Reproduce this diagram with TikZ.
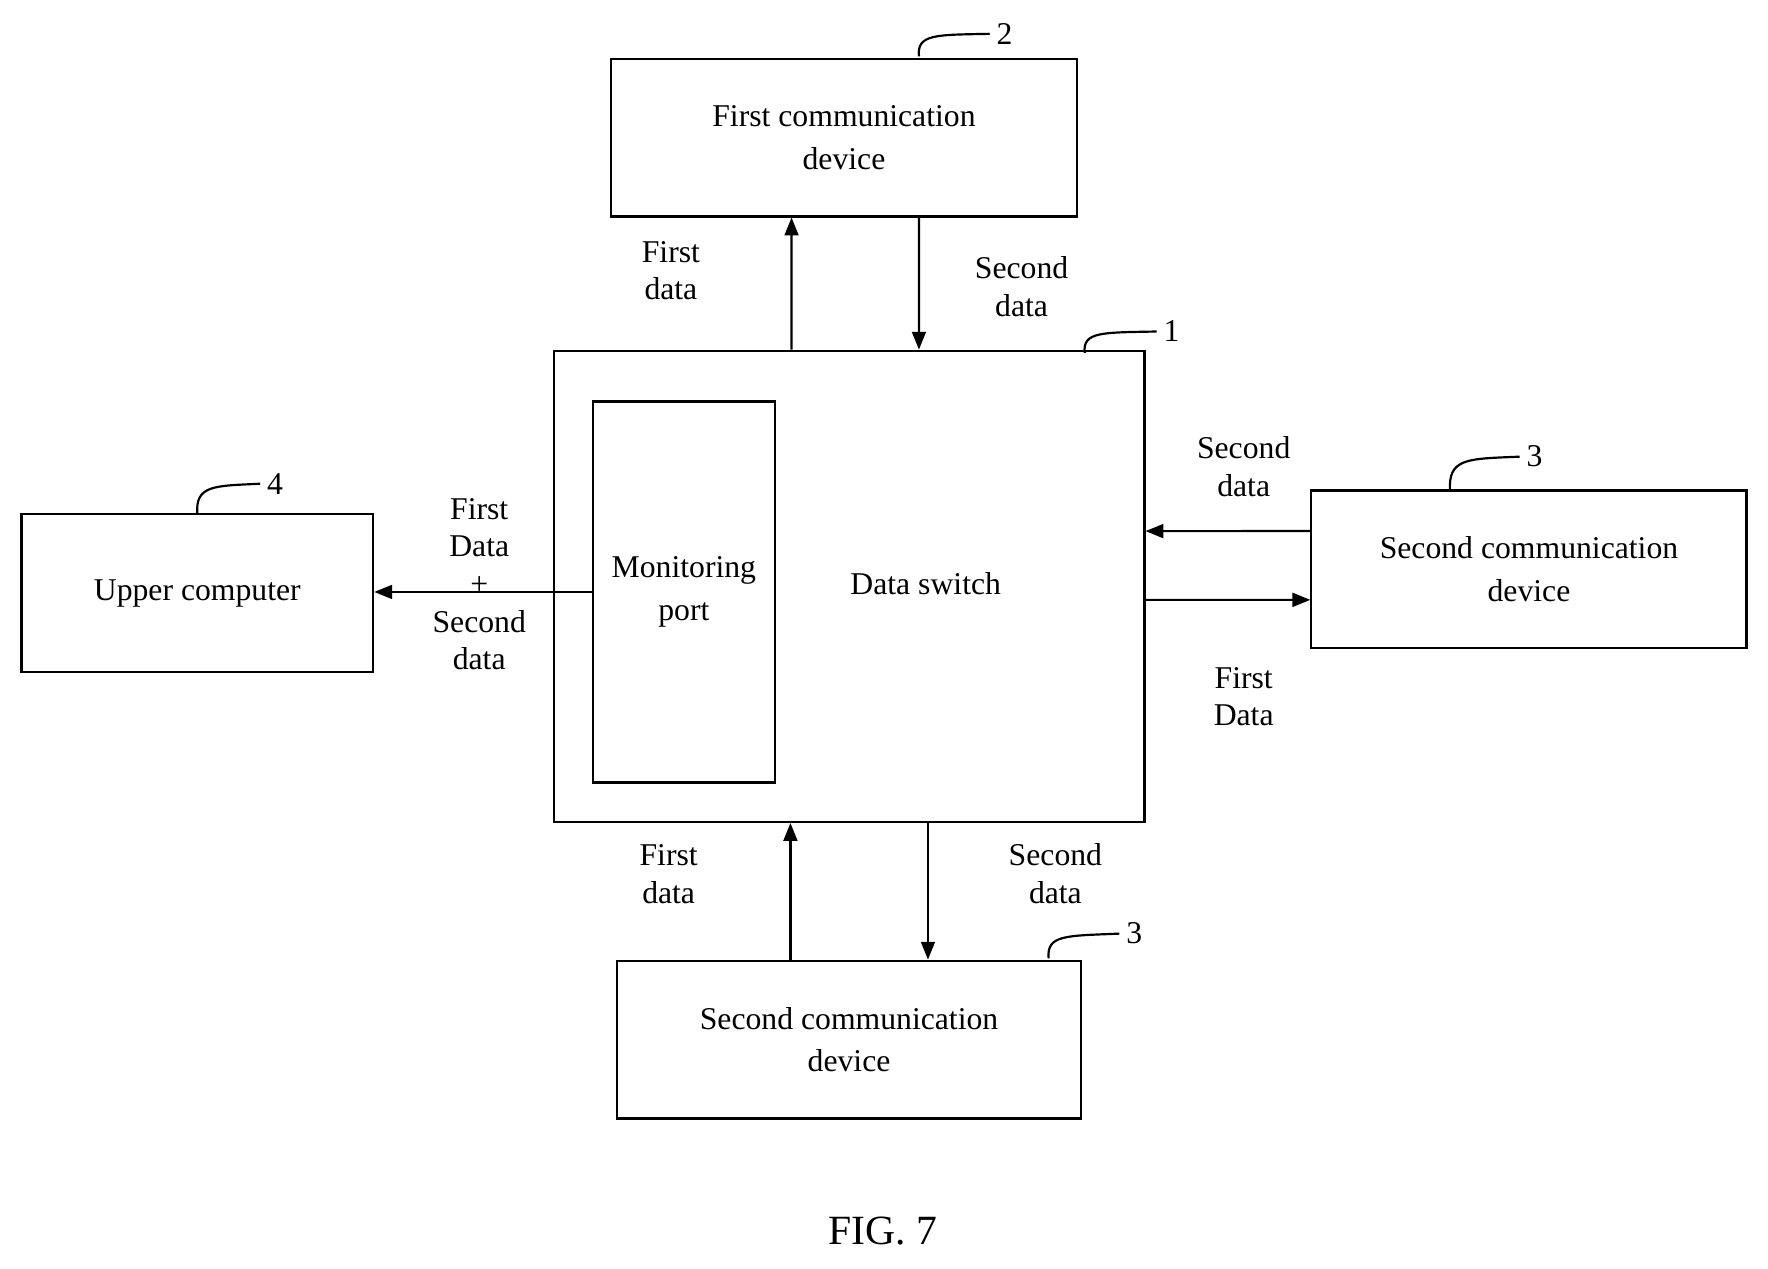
\documentclass[tikz,border=0pt]{standalone}
\usepackage{fontspec}
\setmainfont{Liberation Serif}
\usetikzlibrary{arrows.meta}
\begin{document}
\begin{tikzpicture}[x=0.02cm,y=-0.02cm,
  box/.style={draw,line width=1.1pt,align=center,inner sep=0pt,font=\fontsize{16}{21.6}\selectfont},
  lbl/.style={align=center,font=\fontsize{16}{19}\selectfont},
  arr/.style={line width=1.1pt,-{Triangle[length=9pt,width=7pt]}},
  lead/.style={line width=1.1pt}]
\useasboundingbox (0,0) rectangle (1568,1125);
\node[box,minimum width=8.26cm,minimum height=2.8cm] (first) at (748.5,122) {First communication\\device};
\node[box,minimum width=10.48cm,minimum height=8.36cm] (sw) at (753,520) {};
\node[box,minimum width=3.22cm,minimum height=6.76cm] (mon) at (606.5,525) {Monitoring\\port};
\node[lbl] (swt) at (821,518) {Data switch};
\node[box,minimum width=6.24cm,minimum height=2.8cm] (up) at (175,526) {Upper computer};
\node[box,minimum width=7.72cm,minimum height=2.8cm] (rt) at (1356,505) {Second communication\\device};
\node[box,minimum width=8.24cm,minimum height=2.8cm] (bt) at (753,922) {Second communication\\device};
\draw[arr] ([xshift=-1.02cm]sw.north) -- ([xshift=-0.93cm]first.south);
\draw[arr] ([xshift=1.33cm]first.south) -- ([xshift=1.24cm]sw.north);
\draw[arr] ([yshift=0.68cm]rt.west) -- ([yshift=0.98cm]sw.east);
\draw[arr] ([yshift=-0.24cm]sw.east) -- ([yshift=-0.54cm]rt.west);
\draw[arr] ([xshift=-1.04cm]bt.north) -- ([xshift=-1.04cm]sw.south);
\draw[arr] ([xshift=1.4cm]sw.south) -- ([xshift=1.4cm]bt.north);
\draw[arr] (mon.west) -- (mon.west -| up.east);
\node[lbl] (l1) at (595,240) {First\\data};
\node[lbl] (l2) at (906,254) {Second\\data};
\node[lbl] (l3) at (1103,414) {Second\\data};
\node[lbl] (l4) at (1103,618) {First\\Data};
\node[lbl] (l5) at (593,775) {First\\data};
\node[lbl] (l6) at (936,775) {Second\\data};
\node[lbl] (l7) at (425,518) {First\\Data\\+\\Second\\data};
\node[lbl] (n2) at (891,30) {2};
\node[lbl] (n1) at (1039,294) {1};
\node[lbl] (n3a) at (1361,405) {3};
\node[lbl] (n4) at (244,429) {4};
\node[lbl] (n3b) at (1006,828) {3};
\draw[lead] (815,50) .. controls (813,30) and (830,31) .. (n2.west);
\draw[lead] (962,313) .. controls (960,294) and (977,295) .. (n1.west);
\draw[lead] (1286,436) .. controls (1284,406) and (1301,407) .. (n3a.west);
\draw[lead] (175,456) .. controls (173,430) and (190,431) .. (n4.west);
\draw[lead] (930,850) .. controls (928,829) and (945,830) .. (n3b.west);
\node[font=\fontsize{21}{25}\selectfont] (fig) at (783,1092) {FIG. 7};
\end{tikzpicture}
\end{document}
